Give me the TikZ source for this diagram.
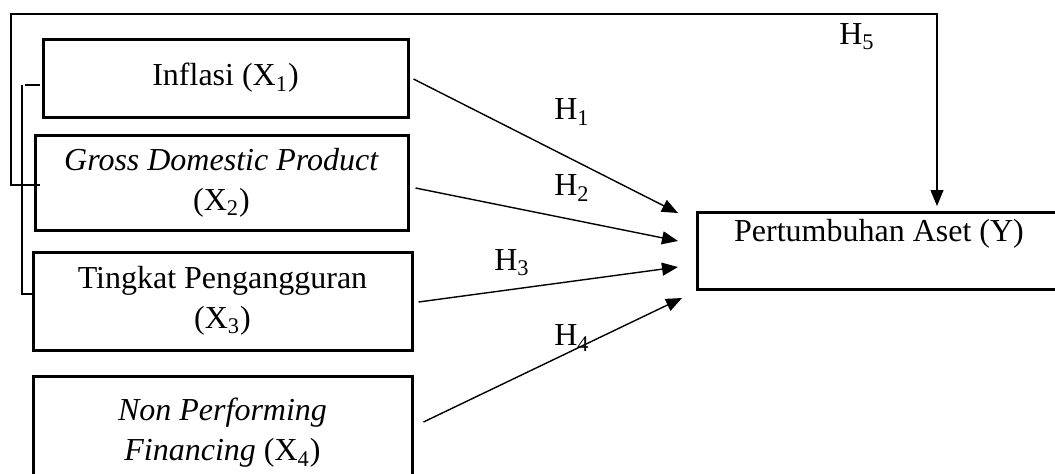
\documentclass[tikz,border=0pt]{standalone}
\usepackage{fontspec}
\setmainfont{Liberation Serif}
\usetikzlibrary{arrows.meta,calc}
\begin{document}
\begin{tikzpicture}[x=0.5pt,y=-0.5pt,
  font=\fontsize{16}{20}\selectfont,
  box/.style={draw, line width=1.5pt, inner sep=0pt, align=center},
  conn/.style={line width=0.7pt, -{Triangle[length=8pt,width=6.5pt]}},
  brk/.style={line width=0.6pt},
  hyp/.style={inner sep=0pt}]
\useasboundingbox (0,0) rectangle (1055,473);
\clip (0,0) rectangle (1055,473);
% boxes
\node[box, minimum width=182.5pt, minimum height=39pt] (X1) at (225.5,78) {Inflasi (X\textsubscript{1})};
\node[box, minimum width=186.5pt, minimum height=47.5pt] (X2) at (221.5,182.5) {\textit{Gross Domestic Product}\\(X\textsubscript{2})};
\node[box, minimum width=189.5pt, minimum height=49pt] (X3) at (222.5,301) {Tingkat Pengangguran\\(X\textsubscript{3})};
\node[box, minimum width=189.5pt, minimum height=57pt] (X4) at (222.5,433) {\textit{Non Performing}\\\textit{Financing} (X\textsubscript{4})};
\node[box, minimum width=184pt, text height=14.5pt, text depth=24pt] (Y) at (881,250.5) {\hspace*{-2pt}Pertumbuhan Aset (Y)};
% arrow end points
\coordinate (t1) at (678,213);
\coordinate (t2) at (678,241);
\coordinate (t3) at (678,267);
\coordinate (t4) at (682,298);
\coordinate (t5) at (937,206);
% direct arrows
\draw[conn] ([shift={(4,1)}]X1.east) -- (t1);
\draw[conn] ([shift={(6,5.5)}]X2.east) -- (t2);
\draw[conn] ([shift={(5,1)}]X3.east) -- (t3);
\draw[conn] ([shift={(10,-11)}]X4.east) -- (t4);
% H5 bracket line
\coordinate (a0) at (40,185);
\coordinate (a1) at (11,185);
\coordinate (a2) at (11,14);
\coordinate (a3) at (937,14);
\draw[brk] ($(a1)+(-1,0)$) -- (a0);
\draw[conn, line width=0.6pt] (a1) -- (a2) -- (a3) -- (t5);
% inner bracket
\coordinate (b0) at (40,85);
\coordinate (b1) at (25,85);
\coordinate (b2) at (22,85);
\coordinate (b3) at (22,294);
\coordinate (b4) at (35,294);
\draw[brk] (b0) -- (b1);
\draw[brk] (b2) -- (b3) -- (b4);
% labels
\node[hyp] (h1) at (572,112) {H\textsubscript{1}};
\node[hyp] (h2) at (572,188) {H\textsubscript{2}};
\node[hyp] (h3) at (512,263) {H\textsubscript{3}};
\node[hyp] (h4) at (572,338) {H\textsubscript{4}};
\node[hyp] (h5) at (857,37) {H\textsubscript{5}};
\end{tikzpicture}
\end{document}
